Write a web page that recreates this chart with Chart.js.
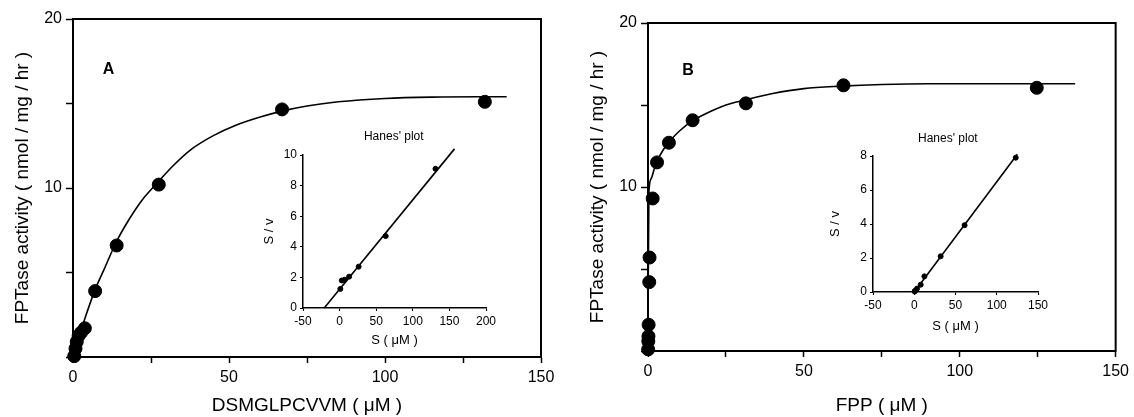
<!DOCTYPE html>
<html>
<head>
<meta charset="utf-8">
<script src="https://cdn.jsdelivr.net/npm/chart.js@4.4.1/dist/chart.umd.min.js"></script>
<style>
  html, body { margin: 0; padding: 0; background: #fff; }
  #wrap { position: relative; width: 1134px; height: 417px; }
  #wrap canvas { position: absolute; left: 0; top: 0; }
</style>
</head>
<body>
<div id="wrap">
  <canvas id="mainA" width="1134" height="417"></canvas>
  <canvas id="insetA" width="1134" height="417"></canvas>
  <canvas id="mainB" width="1134" height="417"></canvas>
  <canvas id="insetB" width="1134" height="417"></canvas>
</div>
<script>
// panel A - DSMGLPCVVM
const substrateA = [0.4, 0.8, 1.2, 1.8, 2.6, 3.8, 7.1, 14, 27.5, 67, 132];
const activityA = [0.05, 0.5, 0.9, 1.25, 1.45, 1.7, 3.9, 6.6, 10.2, 14.65, 15.1];
const fitA_x = [0, 2, 4, 7, 10, 14, 18, 22, 27, 32, 38, 45, 52, 60, 67, 75, 85, 100, 115, 130, 139];
const fitA_y = [0, 1.24, 2.38, 3.94, 5.2, 6.85, 8.15, 9.25, 10.3, 11.3, 12.3, 13.1, 13.7, 14.2, 14.55, 14.85, 15.1, 15.3, 15.38, 15.4, 15.4];

// inset A - Hanes' plot
const hanesA_S = [1, 3, 7, 13, 26, 63, 131];
const hanesA_Sv = [1.25, 1.8, 1.85, 2.05, 2.7, 4.7, 9.1];
const hanesA_lineS = [-21, 157];
const hanesA_lineSv = [0, 10.4];

// panel B - FPP
const substrateB = [0.05, 0.1, 0.15, 0.2, 0.4, 0.5, 1.5, 2.9, 6.7, 14.3, 31.4, 62.7, 124.7];
const activityB = [0.1, 0.6, 0.9, 1.6, 4.2, 5.7, 9.3, 11.5, 12.7, 14.07, 15.1, 16.2, 16.05];
const fitB_x = [0, 0.1, 0.3, 1, 2, 3, 5, 7, 10, 14, 20, 25, 31, 40, 50, 62, 75, 90, 110, 137];
const fitB_y = [0, 5, 9.7, 10.5, 11.1, 11.6, 12.3, 12.8, 13.4, 14.0, 14.6, 15.0, 15.3, 15.7, 16.0, 16.15, 16.25, 16.3, 16.3, 16.3];

// inset B - Hanes' plot
const hanesB_S = [0.5, 1, 3.4, 7.8, 12.3, 32, 61, 123];
const hanesB_Sv = [0.03, 0.07, 0.2, 0.43, 0.92, 2.1, 3.93, 7.9];
const hanesB_lineS = [0, 125];
const hanesB_lineSv = [0, 8.1];

const FONT = "'Liberation Sans', Arial, Helvetica, sans-serif";

const pts = (xs, ys) => xs.map((x, i) => ({ x: x, y: ys[i] }));

const framePlugin = {
    id: 'frame',
    afterDraw(chart, args, opts) {
        if (!opts.show) return;
        const a = chart.chartArea;
        const ctx = chart.ctx;
        ctx.save();
        ctx.strokeStyle = '#000';
        ctx.lineWidth = 2;
        ctx.strokeRect(a.left, a.top, a.right - a.left, a.bottom - a.top);
        ctx.restore();
    }
};

const notesPlugin = {
    id: 'notes',
    afterDraw(chart, args, opts) {
        const ctx = chart.ctx;
        (opts.items || []).forEach(n => {
            ctx.save();
            ctx.fillStyle = '#000';
            ctx.font = n.font;
            ctx.textAlign = 'center';
            ctx.textBaseline = 'middle';
            ctx.fillText(n.text, chart.scales.x.getPixelForValue(n.x), chart.scales.y.getPixelForValue(n.y));
            ctx.restore();
        });
    }
};

const axis = (o) => ({
    type: 'linear',
    min: o.min,
    max: o.max,
    afterFit: s => { if (s.isHorizontal()) s.height = o.size; else s.width = o.size; },
    border: { display: true, color: '#000', width: o.line },
    grid: { drawOnChartArea: false, drawTicks: true, tickLength: o.tick, tickWidth: o.line * 0.75, tickColor: '#000' },
    ticks: {
        stepSize: o.step,
        color: '#000',
        padding: o.pad,
        font: { family: FONT, size: o.font },
        callback: o.label || (v => v)
    },
    title: {
        display: true,
        text: o.title,
        color: '#000',
        padding: 0,
        font: { family: FONT, size: o.titleSize }
    }
});

const makeChart = (id, c) => new Chart(document.getElementById(id), {
    type: 'scatter',
    data: {
        datasets: [
            {
                data: pts(c.sx, c.sy),
                backgroundColor: '#000',
                borderColor: '#000',
                pointRadius: c.radius,
                pointHoverRadius: c.radius,
                clip: false
            },
            {
                data: pts(c.lx, c.ly),
                showLine: true,
                borderColor: '#000',
                borderWidth: c.lineWidth,
                pointRadius: 0,
                cubicInterpolationMode: 'monotone',
                clip: false
            }
        ]
    },
    options: {
        responsive: false,
        animation: false,
        layout: { padding: c.padding },
        plugins: {
            legend: { display: false },
            tooltip: { enabled: false },
            frame: { show: c.frame },
            notes: { items: c.notes }
        },
        scales: { x: c.x, y: c.y }
    },
    plugins: [framePlugin, notesPlugin]
});

const every50 = v => (v % 50 === 0 ? v : '');
const tens = v => (v === 10 || v === 20 ? v : '');

makeChart('mainA', {
    sx: substrateA, sy: activityA, lx: fitA_x, ly: fitA_y,
    radius: 6.5, lineWidth: 1.6, frame: true,
    padding: { left: 11, right: 593, top: 19, bottom: 0 },
    notes: [{ text: 'A', x: 11.4, y: 17, font: 'bold 16px ' + FONT }],
    x: axis({ min: 0, max: 150, step: 25, size: 60, line: 2, tick: 6, pad: 5, font: 16, label: every50, title: 'DSMGLPCVVM ( \u03bcM )', titleSize: 19 }),
    y: axis({ min: 0, max: 20, step: 5, size: 62, line: 2, tick: 7, pad: 4, font: 16, label: tens, title: 'FPTase activity ( nmol / mg / hr )', titleSize: 19 })
});

makeChart('insetA', {
    sx: hanesA_S, sy: hanesA_Sv, lx: hanesA_lineS, ly: hanesA_lineSv,
    radius: 2.5, lineWidth: 1.6, frame: false,
    padding: { left: 262, right: 648, top: 155, bottom: 69 },
    notes: [{ text: "Hanes' plot", x: 74, y: 11.2, font: '12px ' + FONT }],
    x: axis({ min: -50, max: 200, step: 50, size: 40, line: 1.5, tick: 3, pad: 3, font: 12, title: 'S ( \u03bcM )', titleSize: 13 }),
    y: axis({ min: 0, max: 10, step: 2, size: 41, line: 1.5, tick: 3, pad: 3, font: 12, title: 'S / v', titleSize: 13 })
});

makeChart('mainB', {
    sx: substrateB, sy: activityB, lx: fitB_x, ly: fitB_y,
    radius: 6.5, lineWidth: 1.6, frame: true,
    padding: { left: 586, right: 17, top: 23, bottom: 0 },
    notes: [{ text: 'B', x: 12.8, y: 17.1, font: 'bold 16px ' + FONT }],
    x: axis({ min: 0, max: 150, step: 25, size: 66, line: 2, tick: 6, pad: 5, font: 16, label: every50, title: 'FPP ( \u03bcM )', titleSize: 19 }),
    y: axis({ min: 0, max: 20, step: 5, size: 62, line: 2, tick: 7, pad: 4, font: 16, label: tens, title: 'FPTase activity ( nmol / mg / hr )', titleSize: 19 })
});

makeChart('insetB', {
    sx: hanesB_S, sy: hanesB_Sv, lx: hanesB_lineS, ly: hanesB_lineSv,
    radius: 2.5, lineWidth: 1.6, frame: false,
    padding: { left: 828, right: 96, top: 156, bottom: 83 },
    notes: [{ text: "Hanes' plot", x: 40.7, y: 9.0, font: '12px ' + FONT }],
    x: axis({ min: -50, max: 150, step: 50, size: 42, line: 1.5, tick: 3, pad: 3, font: 12, title: 'S ( \u03bcM )', titleSize: 13 }),
    y: axis({ min: 0, max: 8, step: 2, size: 45, line: 1.5, tick: 3, pad: 3, font: 12, title: 'S / v', titleSize: 13 })
});
</script>
</body>
</html>
